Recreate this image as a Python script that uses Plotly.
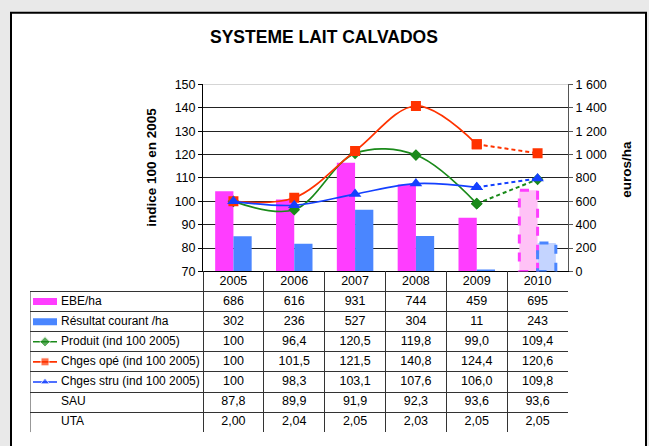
import plotly.graph_objects as go

years = ['2005', '2006', '2007', '2008', '2009', '2010']
ebe = [686, 616, 931, 744, 459, 695]
resultat = [302, 236, 527, 304, 11, 243]
produit = [100, 96.4, 120.5, 119.8, 99.0, 109.4]
chges_ope = [100, 101.5, 121.5, 140.8, 124.4, 120.6]
chges_stru = [100, 98.3, 103.1, 107.6, 106.0, 109.8]
sau = [87.8, 89.9, 91.9, 92.3, 93.6, 93.6]
uta = [2.00, 2.04, 2.05, 2.03, 2.05, 2.05]

euro_ticks = [0, 200, 400, 600, 800, 1000, 1200, 1400, 1600]
euro_labels = ['0', '200', '400', '600', '800', '1 000', '1 200', '1 400', '1 600']

W, H = 649, 446
FONT = 'Liberation Sans, Arial, sans-serif'
MAG, MAG_LIGHT = '#ff3dff', '#ffc2f6'
BLU, BLU_LIGHT = '#4a86ff', '#c4d4ff'
GREEN, RED, BLUE_LINE = '#1a8a1a', '#ff3300', '#1440ff'

# pixel layout of the plot area and the data table
PX_L, PX_R = 203, 568
PY_T, PY_B = 80, 273
TAB_L, TAB_B = 30, 439
COLW = (PX_R - PX_L) / len(years)


def fx(px):
    return px / W


def fy(py):
    return 1 - py / H


def u(px):
    # table x units: column i centred on i
    return -0.5 + (px - PX_L) / COLW


def fr(v):
    return f'{v:.1f}'.replace('.', ',') if v != 100 else '100'


fig = go.Figure()

# bars (euros/ha, right axis)
fig.add_trace(go.Bar(x=years, y=ebe, yaxis='y', offsetgroup='a',
                     marker=dict(color=[MAG] * 5 + [MAG_LIGHT], line_width=0)))
fig.add_trace(go.Bar(x=years, y=resultat, yaxis='y', offsetgroup='b',
                     marker=dict(color=[BLU] * 5 + [BLU_LIGHT], line_width=0)))

# index lines (left axis), 2010 dashed
series = [(produit, GREEN, 'diamond', 9), (chges_ope, RED, 'square', 10),
          (chges_stru, BLUE_LINE, 'triangle-up', 11)]
for vals, col, sym, sz in series:
    fig.add_trace(go.Scatter(x=years[:5], y=vals[:5], yaxis='y2', mode='lines+markers',
                             line=dict(color=col, width=1.7, shape='spline', smoothing=1),
                             marker=dict(symbol=sym, size=sz, color=col)))
    fig.add_trace(go.Scatter(x=years[4:], y=vals[4:], yaxis='y2', mode='lines+markers',
                             line=dict(color=col, width=2, dash='4px,3px'),
                             marker=dict(symbol=sym, size=sz, color=col)))

# data table
rows = [
    ('EBE/ha', [str(v) for v in ebe], 'bar', MAG),
    ('Résultat courant /ha', [str(v) for v in resultat], 'bar', BLU),
    ('Produit (ind 100 2005)', [fr(v) for v in produit], 'diamond', GREEN),
    ('Chges opé (ind 100 2005)', [fr(v) for v in chges_ope], 'square', RED),
    ('Chges stru (ind 100 2005)', [fr(v) for v in chges_stru], 'triangle-up', BLUE_LINE),
    ('SAU', [f'{v:.1f}'.replace('.', ',') for v in sau], None, None),
    ('UTA', [f'{v:.2f}'.replace('.', ',') for v in uta], None, None),
]
tx, ty, tt = [], [], []
for i, y in enumerate(years):
    tx.append(i); ty.append(0.5); tt.append(y)
for r, (lab, cells, kind, col) in enumerate(rows, start=1):
    for i, c in enumerate(cells):
        tx.append(i); ty.append(r + 0.5); tt.append(c)
    yc = r + 0.5
    if kind == 'bar':
        fig.add_trace(go.Scatter(x=[u(33), u(57)], y=[yc, yc], xaxis='x3', yaxis='y3',
                                 mode='lines', line=dict(color=col, width=7)))
    elif kind:
        fig.add_trace(go.Scatter(x=[u(33), u(45), u(57)], y=[yc, yc, yc], xaxis='x3', yaxis='y3',
                                 mode='lines+markers', line=dict(color=col, width=1.6),
                                 marker=dict(symbol=kind, color=col, size=[0, 8, 0])))
    fig.add_trace(go.Scatter(x=[u(61)], y=[yc], xaxis='x3', yaxis='y3', mode='text',
                             text=[lab], textposition='middle right',
                             textfont=dict(family=FONT, size=12, color='black')))
fig.add_trace(go.Scatter(x=tx, y=ty, xaxis='x3', yaxis='y3', mode='text', text=tt,
                         textfont=dict(family=FONT, size=12.5, color='black')))

axis_font = dict(family=FONT, size=12.5, color='black')
fig.update_layout(
    width=W, height=H,
    margin=dict(l=0, r=0, t=0, b=0),
    paper_bgcolor='#e9e9e9',
    plot_bgcolor='rgba(0,0,0,0)',
    showlegend=False,
    hovermode=False,
    barmode='group', bargap=0.4, bargroupgap=0,
    xaxis=dict(domain=[fx(PX_L), fx(PX_R)], anchor='y', type='category',
               showticklabels=False, ticks='', showgrid=False,
               showline=True, linecolor='black', linewidth=1),
    yaxis=dict(domain=[fy(PY_B), fy(PY_T)], side='right', range=[0, 1600],
               tickvals=euro_ticks, ticktext=euro_labels, tickfont=axis_font,
               ticks='outside', ticklen=4, tickcolor='#555',
               showline=True, linecolor='#555', linewidth=1,
               showgrid=True, gridcolor='#222', gridwidth=1, zeroline=False),
    yaxis2=dict(overlaying='y', side='left', range=[70, 150], dtick=10,
                tickfont=axis_font, ticks='outside', ticklen=4, tickcolor='black',
                showline=True, linecolor='black', linewidth=1,
                showgrid=False, zeroline=False),
    xaxis3=dict(domain=[fx(TAB_L), fx(PX_R)], anchor='y3',
                range=[u(TAB_L), u(PX_R)],
                tickvals=[i - 0.5 for i in range(len(years) + 1)],
                showticklabels=False, ticks='', showgrid=True,
                gridcolor='#333', gridwidth=1, zeroline=False),
    yaxis3=dict(domain=[fy(TAB_B), fy(PY_B)], anchor='x3', range=[8, 0],
                tickvals=list(range(1, 9)), showticklabels=False, ticks='',
                showgrid=True, gridcolor='#333', gridwidth=1, zeroline=False),
    shapes=[
        dict(type='rect', xref='paper', yref='paper', layer='below',
             x0=fx(11), x1=fx(646), y0=-0.05, y1=fy(6),
             fillcolor='white', line=dict(color='black', width=2)),
        dict(type='line', xref='x domain', yref='y', x0=0, x1=1, y0=1600, y1=1600,
             line=dict(color='#aaa', width=1)),
        dict(type='line', xref='x3', yref='y3', x0=u(TAB_L), x1=u(TAB_L), y0=1, y1=8,
             line=dict(color='#333', width=1)),
        dict(type='rect', xref='x', yref='y', x0=4.7, x1=5.0, y0=0, y1=ebe[5],
             line=dict(color=MAG, width=3, dash='dash')),
        dict(type='rect', xref='x', yref='y', x0=5.0, x1=5.3, y0=0, y1=resultat[5],
             line=dict(color=BLU, width=3, dash='dash')),
    ],
    annotations=[
        dict(text='<b>SYSTEME LAIT CALVADOS</b>', x=fx(324), y=fy(31), xref='paper', yref='paper',
             xanchor='center', yanchor='middle', showarrow=False,
             font=dict(family=FONT, size=17.5, color='black')),
        dict(text='<b>indice 100 en 2005</b>', x=fx(152), y=fy(166), xref='paper', yref='paper',
             xanchor='center', yanchor='middle', showarrow=False, textangle=-90,
             font=dict(family=FONT, size=13.5, color='black')),
        dict(text='<b>euros/ha</b>', x=fx(627), y=fy(168), xref='paper', yref='paper',
             xanchor='center', yanchor='middle', showarrow=False, textangle=-90,
             font=dict(family=FONT, size=13.5, color='black')),
    ],
)

fig.write_html('out.html', config={'displayModeBar': False},
               post_script="document.body.style.margin='0px';")
